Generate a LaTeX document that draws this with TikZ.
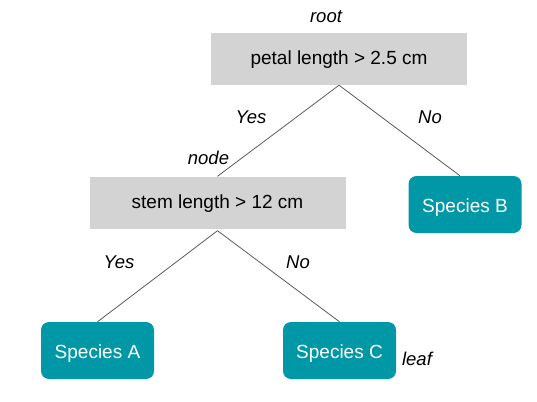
\documentclass[tikz,border=0pt]{standalone}
\usepackage{fontspec}
\setmainfont{Liberation Sans}
\definecolor{boxgray}{HTML}{D3D3D3}
\definecolor{teal1}{HTML}{0097A7}
\definecolor{linegray}{HTML}{5A5A5A}
\begin{document}
\begin{tikzpicture}[x=1pt,y=-1pt,
  every node/.style={inner sep=0pt, font=\fontsize{19}{23}\selectfont},
  testbox/.style={fill=boxgray, minimum width=256pt, minimum height=52pt, text height=13pt, text depth=1pt},
  leafbox/.style={fill=teal1, rounded corners=8pt, minimum width=113pt, minimum height=57pt, text=white, text height=15pt, text depth=0pt},
  lbl/.style={font=\fontsize{18.5}{22}\selectfont\itshape, anchor=base},
  edge/.style={draw=linegray, line width=0.8pt}]
\useasboundingbox (0,0) rectangle (537,401);
\node[testbox] (root) at (339,59) {petal length > 2.5 cm};
\node[testbox] (stem) at (217.5,202.5) {stem length > 12 cm};
\node[leafbox] (B) at (465,204.5) {Species B};
\node[leafbox] (A) at (97.5,350.5) {Species A};
\node[leafbox] (C) at (339.5,350.5) {Species C};
\draw[edge] (root.south) -- (stem.north);
\draw[edge] (root.south) -- ([xshift=-5pt]B.north);
\draw[edge] ([yshift=-2pt]stem.south) -- (A.north);
\draw[edge] ([yshift=-2pt]stem.south) -- (C.north);
\node[lbl] (lroot) at (326,23) {root};
\node[lbl] (lyes1) at (251,123) {Yes};
\node[lbl] (lno1) at (430,123) {No};
\node[lbl] (lnode) at (208.5,164) {node};
\node[lbl] (lyes2) at (119,268) {Yes};
\node[lbl] (lno2) at (298,268) {No};
\node[lbl] (lleaf) at (417,365) {leaf};
\end{tikzpicture}
\end{document}
